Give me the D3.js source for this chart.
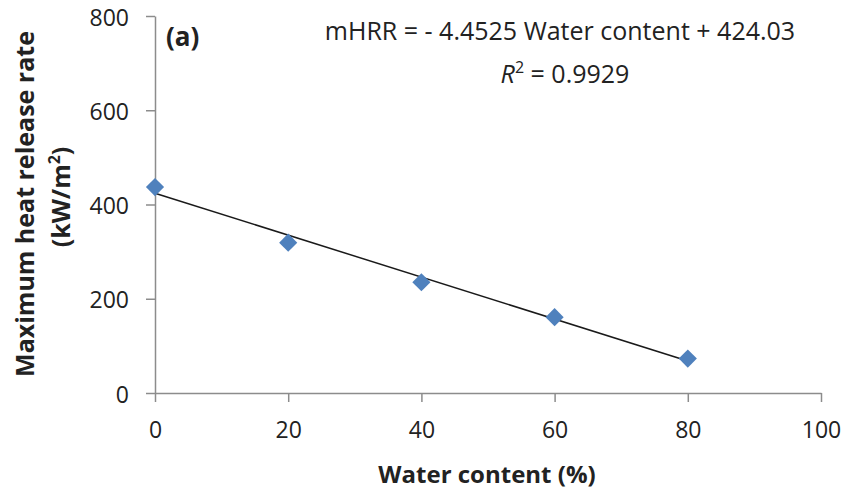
<!DOCTYPE html>
<html>
<head>
<meta charset="utf-8">
<script src="https://d3js.org/d3.v7.min.js"></script>
<style>
  body { margin: 0; background: #fff; }
  text { font-family: "Open Sans", "Liberation Sans", sans-serif; fill: #222; }
  .axis path, .axis line { stroke: #8c8c8c; stroke-width: 1.5; }
  .axis text { font-size: 23px; fill: #222; }
</style>
</head>
<body>
<div id="chart"></div>
<script>
// data
var waterContent = [0, 20, 40, 60, 80];
var mHRR = [437, 319, 235, 161, 73];
var xTicks = [0, 20, 40, 60, 80, 100];
var yTicks = [0, 200, 400, 600, 800];
var slope = -4.4525, intercept = 424.03;

var W = 843, H = 497;
var margin = { top: 16, right: 22, bottom: 104, left: 155 };

var svg = d3.select("#chart").append("svg")
  .attr("width", W).attr("height", H);

var x = d3.scaleLinear().domain([0, 100]).range([margin.left, W - margin.right]);
var y = d3.scaleLinear().domain([0, 800]).range([H - margin.bottom, margin.top]);

// axes
svg.append("g")
  .attr("class", "axis")
  .attr("transform", "translate(0," + y(0) + ")")
  .call(d3.axisBottom(x).tickValues(xTicks).tickSize(9).tickSizeOuter(0).tickPadding(20));

svg.append("g")
  .attr("class", "axis")
  .attr("transform", "translate(" + x(0) + ",0)")
  .call(d3.axisLeft(y).tickValues(yTicks).tickSize(9).tickSizeOuter(0).tickPadding(17))
  .selectAll("text").attr("dy", "0.4em");

// trend line
svg.append("line")
  .attr("x1", x(0)).attr("y1", y(intercept))
  .attr("x2", x(80)).attr("y2", y(intercept + slope * 80))
  .attr("stroke", "#1a1a1a").attr("stroke-width", 1.5);

// points
var diamond = d3.symbol().type(d3.symbolSquare).size(165);
svg.selectAll(".pt")
  .data(waterContent)
  .enter().append("path")
  .attr("class", "pt")
  .attr("d", diamond)
  .attr("transform", function (d, i) { return "translate(" + x(d) + "," + y(mHRR[i]) + ") rotate(45)"; })
  .attr("fill", "#4f81bd");

// labels
svg.append("text")
  .attr("x", 487).attr("y", 483)
  .attr("text-anchor", "middle")
  .style("font-size", "24px").style("font-weight", "bold")
  .text("Water content (%)");

var yt = svg.append("text")
  .attr("transform", "translate(34,204) rotate(-90)")
  .attr("text-anchor", "middle")
  .style("font-size", "25px").style("font-weight", "bold");
yt.append("tspan").attr("x", 0).attr("dy", 0).text("Maximum heat release rate");
var yt2 = svg.append("text")
  .attr("transform", "translate(70,197) rotate(-90)")
  .attr("text-anchor", "middle")
  .style("font-size", "25px").style("font-weight", "bold");
yt2.append("tspan").text("(kW/m");
yt2.append("tspan").attr("dy", -10).style("font-size", "16px").text("2");
yt2.append("tspan").attr("dy", 10).text(")");

svg.append("text")
  .attr("x", 166).attr("y", 46)
  .style("font-size", "26px").style("font-weight", "bold")
  .text("(a)");

svg.append("text")
  .attr("x", 560).attr("y", 40)
  .attr("text-anchor", "middle")
  .style("font-size", "25px")
  .text("mHRR = - 4.4525 Water content + 424.03");

var r2 = svg.append("text")
  .attr("x", 565).attr("y", 83)
  .attr("text-anchor", "middle")
  .style("font-size", "25px");
r2.append("tspan").style("font-style", "italic").text("R");
r2.append("tspan").attr("dy", -10).style("font-size", "16px").text("2");
r2.append("tspan").attr("dy", 10).text(" = 0.9929");
</script>
</body>
</html>
